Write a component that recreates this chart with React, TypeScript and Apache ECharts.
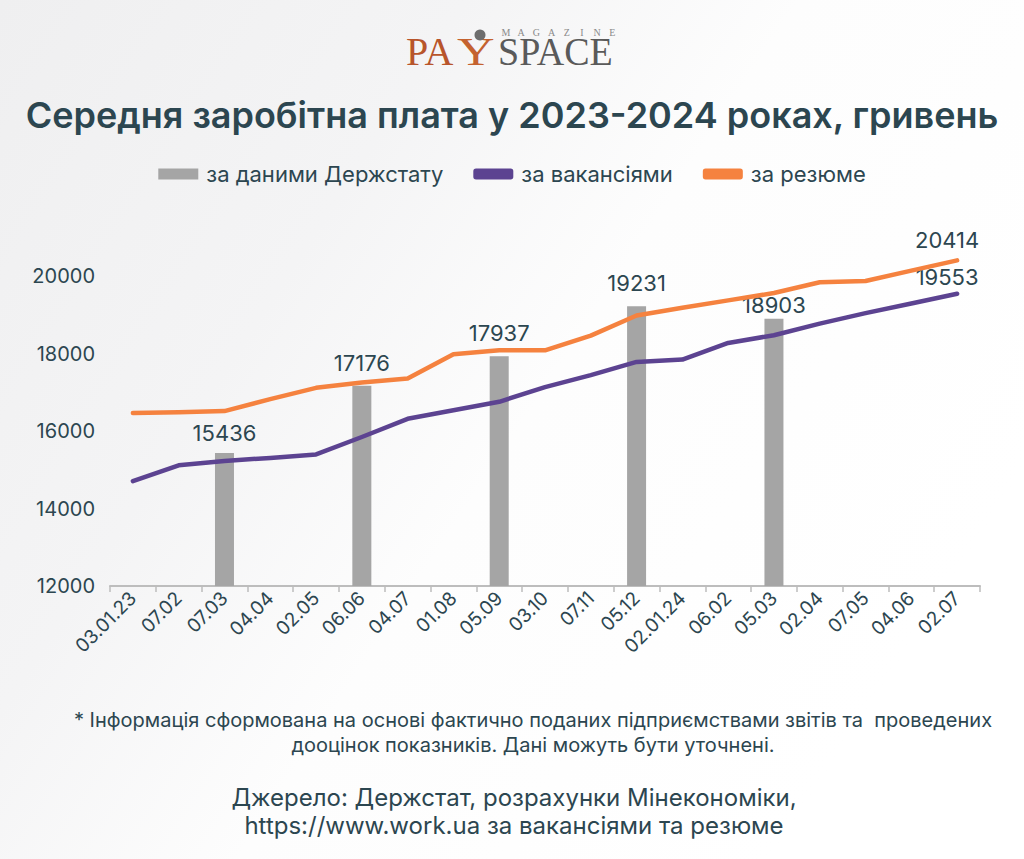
import React, { useEffect, useRef } from "react";
import * as echarts from "echarts";

const categories = ["03.01.23", "07.02", "07.03", "04.04", "02.05", "06.06", "04.07", "01.08", "05.09", "03.10", "07.11", "05.12", "02.01.24", "06.02", "05.03", "02.04", "07.05", "04.06", "02.07"];
const govValues = [null, null, 15436, null, null, 17176, null, null, 17937, null, null, 19231, null, null, 18903, null, null, null, null];
const vacancyValues = [14710, 15120, 15230, 15310, 15400, 15850, 16320, 16540, 16760, 17140, 17450, 17790, 17850, 18280, 18480, 18780, 19050, 19300, 19553];
const resumeValues = [16470, 16490, 16520, 16830, 17120, 17260, 17360, 17990, 18090, 18090, 18470, 18990, 19190, 19380, 19570, 19850, 19880, 20150, 20414];
const yTicks = [12000, 14000, 16000, 18000, 20000];

const seriesNames = ["за даними Держстату", "за вакансіями", "за резюме"];
const title = "Середня заробітна плата у 2023-2024 роках, гривень";
const note1 = "* Інформація сформована на основі фактично поданих підприємствами звітів та  проведених";
const note2 = "дооцінок показників. Дані можуть бути уточнені.";
const src1 = "Джерело: Держстат, розрахунки Мінекономіки,";
const src2 = "https://www.work.ua за вакансіями та резюме";
const magazine = "MAGAZINE".split("");

const TEXT = "#2c4650";
const FONT = "Inter";

export default function App() {
  const ref = useRef<HTMLDivElement>(null);
  useEffect(() => {
    document.body.style.margin = "0";
    const chart = echarts.init(ref.current!, null, { renderer: "svg" });
    const lastLabel = (v: number, dist: number) => ({
      value: v,
      symbol: "circle",
      symbolSize: 1,
      label: { show: true, position: "top", distance: dist, offset: [-10, 0], color: TEXT, fontSize: 22, fontFamily: FONT },
    });
    const barLabelShift: Record<number, number> = { 15436: 3, 18903: 9 };
    const barData = govValues.map((v) =>
      v == null ? null : barLabelShift[v] ? { value: v, label: { offset: [0, barLabelShift[v]] } } : v
    );
    const magazineLetters = magazine.map((ch, i) => ({
      type: "text",
      x: 506 + i * 15.2,
      y: 32,
      style: { text: ch, fontFamily: "Liberation Serif", fontSize: 10, fill: "#8a8a8a", align: "center", verticalAlign: "middle" },
    }));
    chart.setOption({
      animation: false,
      backgroundColor: "#ffffff",
      textStyle: { fontFamily: FONT },
      graphic: [
        {
          type: "rect",
          z: -10,
          shape: { x: 0, y: 0, width: 1024, height: 859 },
          style: {
            fill: new echarts.graphic.LinearGradient(0, 0, 1, 0.55, [
              { offset: 0, color: "#efeff0" },
              { offset: 0.35, color: "#f4f4f5" },
              { offset: 0.6, color: "#fdfdfd" },
              { offset: 1, color: "#ffffff" },
            ]),
          },
        },
        // logo
        { type: "text", x: 406, y: 71, style: { text: "PA", fontFamily: "Liberation Serif", fontSize: 40, fill: "#b8552b", verticalAlign: "bottom" } },
        { type: "text", x: 457, y: 72, scaleX: 1.3, style: { text: "Y", fontFamily: "Liberation Serif", fontSize: 40, fill: "#c4622f", verticalAlign: "bottom" } },
        { type: "circle", shape: { cx: 480, cy: 35, r: 5.5 }, style: { fill: "#6d6d6d" } },
        { type: "text", x: 498, y: 71, scaleX: 0.95, style: { text: "SPACE", fontFamily: "Liberation Serif", fontSize: 40, fill: "#5a5a5a", verticalAlign: "bottom" } },
        ...magazineLetters,
        // title
        { type: "text", x: 512, y: 115, style: { text: title, fontFamily: FONT, fontWeight: 600, fontSize: 36, fill: TEXT, align: "center", verticalAlign: "middle" } },
        // notes
        { type: "text", x: 533, y: 720, style: { text: note1, fontFamily: FONT, fontSize: 20, fill: TEXT, align: "center", verticalAlign: "middle" } },
        { type: "text", x: 533, y: 745, style: { text: note2, fontFamily: FONT, fontSize: 20, fill: TEXT, align: "center", verticalAlign: "middle" } },
        { type: "text", x: 514, y: 797, style: { text: src1, fontFamily: FONT, fontSize: 24, fill: TEXT, align: "center", verticalAlign: "middle" } },
        { type: "text", x: 514, y: 825, style: { text: src2, fontFamily: FONT, fontSize: 24, fill: TEXT, align: "center", verticalAlign: "middle" } },
      ],
      legend: {
        top: 158,
        left: "center",
        itemGap: 30,
        itemWidth: 40,
        itemHeight: 11,
        textStyle: { color: TEXT, fontSize: 22, fontFamily: FONT, padding: [0, 0, 0, 3] },
        data: [
          { name: seriesNames[0], icon: "rect" },
          { name: seriesNames[1], icon: "roundRect" },
          { name: seriesNames[2], icon: "roundRect" },
        ],
      },
      grid: { left: 110, right: 44, top: 199, bottom: 273 },
      xAxis: {
        type: "category",
        data: categories,
        boundaryGap: true,
        axisLine: { lineStyle: { color: "#bdbdbd", width: 2 } },
        axisTick: { show: true, length: 6, lineStyle: { color: "#bdbdbd", width: 1.5 } },
        axisLabel: { rotate: 45, color: TEXT, fontSize: 19, fontFamily: FONT, margin: 9, interval: 0 },
      },
      yAxis: {
        type: "value",
        min: 12000,
        max: 22000,
        interval: 2000,
        splitLine: { show: false },
        axisLine: { show: false },
        axisTick: { show: false },
        axisLabel: {
          color: TEXT,
          fontSize: 20,
          fontFamily: FONT,
          margin: 15,
          showMaxLabel: false,
          formatter: (v: number) => (yTicks.includes(v) ? String(v) : ""),
        },
      },
      series: [
        {
          name: seriesNames[0],
          type: "bar",
          data: barData,
          barWidth: 19,
          itemStyle: { color: "#a5a5a5" },
          label: { show: true, position: "top", distance: 12, color: TEXT, fontSize: 22, fontFamily: FONT },
          z: 1,
        },
        {
          name: seriesNames[1],
          type: "line",
          data: vacancyValues.map((v, i) => (i === vacancyValues.length - 1 ? lastLabel(v, 5) : v)),
          symbol: "none",
          showSymbol: true,
          lineStyle: { color: "#5c4391", width: 4.5, cap: "round", join: "round" },
          itemStyle: { color: "#5c4391" },
          z: 3,
        },
        {
          name: seriesNames[2],
          type: "line",
          data: resumeValues.map((v, i) => (i === resumeValues.length - 1 ? lastLabel(v, 9) : v)),
          symbol: "none",
          showSymbol: true,
          lineStyle: { color: "#f5823f", width: 4.5, cap: "round", join: "round" },
          itemStyle: { color: "#f5823f" },
          z: 4,
        },
      ],
    });
    return () => chart.dispose();
  }, []);
  return <div ref={ref} style={{ width: 1024, height: 859 }} />;
}
